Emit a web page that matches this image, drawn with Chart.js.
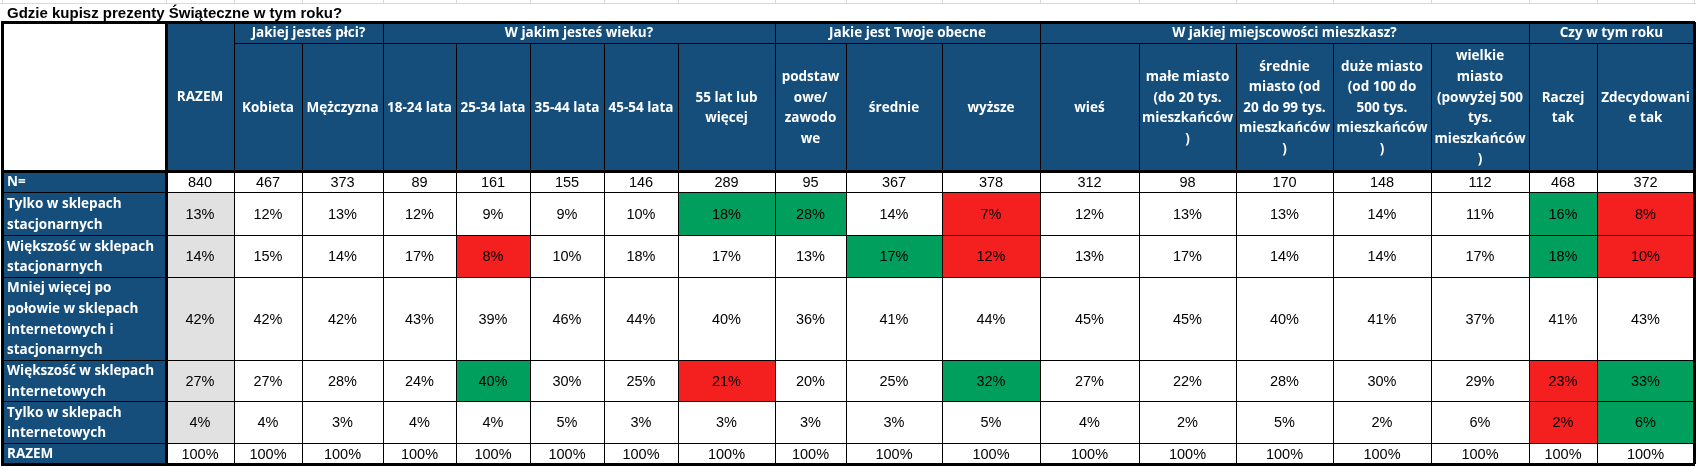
<!DOCTYPE html>
<html>
<head>
<meta charset="utf-8">
<script src="https://cdn.jsdelivr.net/npm/chart.js@4.4.1/dist/chart.umd.min.js"></script>
<style>
  html, body { margin: 0; padding: 0; background: #fff; }
  #wrap { position: relative; width: 1696px; height: 467px; }
</style>
</head>
<body>
<div id="wrap"><canvas id="table-chart"></canvas></div>
<script>
var title = 'Gdzie kupisz prezenty Świąteczne w tym roku?';

var groups = ['Jakiej jesteś płci?', 'W jakim jesteś wieku?', 'Jakie jest Twoje obecne',
  'W jakiej miejscowości mieszkasz?', 'Czy w tym roku'];
var groupSpans = [2, 5, 3, 5, 2];

var columns = ['RAZEM', 'Kobieta', 'Mężczyzna', '18-24 lata', '25-34 lata', '35-44 lata',
  '45-54 lata', '55 lat lub\nwięcej', 'podstaw\nowe/\nzawodo\nwe', 'średnie', 'wyższe', 'wieś',
  'małe miasto\n(do 20 tys.\nmieszkańców\n)', 'średnie\nmiasto (od\n20 do 99 tys.\nmieszkańców\n)',
  'duże miasto\n(od 100 do\n500 tys.\nmieszkańców\n)', 'wielkie\nmiasto\n(powyżej 500\ntys.\nmieszkańców\n)',
  'Raczej\ntak', 'Zdecydowani\ne tak'];

var rowLabels = ['N=', 'Tylko w sklepach\nstacjonarnych', 'Większość w sklepach\nstacjonarnych',
  'Mniej więcej po\npołowie w sklepach\ninternetowych i\nstacjonarnych',
  'Większość w sklepach\ninternetowych', 'Tylko w sklepach\ninternetowych', 'RAZEM'];

var sampleSizes = [840, 467, 373, 89, 161, 155, 146, 289, 95, 367, 378, 312, 98, 170, 148, 112, 468, 372];
var onlyStores = [13, 12, 13, 12, 9, 9, 10, 18, 28, 14, 7, 12, 13, 13, 14, 11, 16, 8];
var mostlyStores = [14, 15, 14, 17, 8, 10, 18, 17, 13, 17, 12, 13, 17, 14, 14, 17, 18, 10];
var halfHalf = [42, 42, 42, 43, 39, 46, 44, 40, 36, 41, 44, 45, 45, 40, 41, 37, 41, 43];
var mostlyOnline = [27, 27, 28, 24, 40, 30, 25, 21, 20, 25, 32, 27, 22, 28, 30, 29, 23, 33];
var onlyOnline = [4, 4, 3, 4, 4, 5, 3, 3, 3, 3, 5, 4, 2, 5, 2, 6, 2, 6];
var totals = [100, 100, 100, 100, 100, 100, 100, 100, 100, 100, 100, 100, 100, 100, 100, 100, 100, 100];

// column indexes marked as significantly higher / lower, per answer row
var higherCells = [[7, 8, 16], [9, 16], [], [4, 10, 17], [17]];
var lowerCells = [[10, 17], [4, 10, 17], [], [7, 16], [16]];

// table layout, in page units
var colEdges = [2, 166, 234, 302, 383, 456, 530, 604, 678, 775, 846, 942, 1040, 1139, 1236, 1333, 1431, 1529, 1597, 1694];
var rowEdges = [22, 43, 171, 192, 235, 277, 360, 401, 443, 464];

var NAVY = '#154e7a';
var GREEN = '#009f5d';
var RED = '#f41f1f';
var GREY = '#e1e1e1';
var headFont = 'bold 13.5px "Open Sans", Lato, sans-serif';
var cellFont = '14.5px "Liberation Sans", Arial, sans-serif';
var lineH = 20.6;

var bodyRows = [sampleSizes, onlyStores, mostlyStores, halfHalf, mostlyOnline, onlyOnline, totals];

function mid(a, b) { return (a + b) / 2; }

var datasets = bodyRows.map(function(values, r) {
  return {
    label: rowLabels[r],
    data: values.map(function(v, c) {
      return { x: mid(colEdges[c + 1], colEdges[c + 2]), y: mid(rowEdges[r + 2], rowEdges[r + 3]), v: v };
    }),
    pointRadius: 0,
    pointHoverRadius: 0,
    showLine: false
  };
});

function multiline(ctx, text, x, y, align) {
  var lines = text.split('\n');
  var top = y - (lines.length - 1) * lineH / 2;
  ctx.textAlign = align;
  ctx.textBaseline = 'middle';
  lines.forEach(function(l, i) { ctx.fillText(l, x, top + i * lineH + 1); });
}

var tablePlugin = {
  id: 'tablePlugin',
  beforeDatasetsDraw: function(chart) {
    var ctx = chart.ctx, sx = chart.scales.x, sy = chart.scales.y;
    var X = function(v) { return sx.getPixelForValue(v); };
    var Y = function(v) { return sy.getPixelForValue(v); };
    function rect(x0, y0, x1, y1, color) {
      ctx.fillStyle = color;
      ctx.fillRect(X(x0), Y(y0), X(x1) - X(x0), Y(y1) - Y(y0));
    }
    function line(x0, y0, x1, y1, w, color) {
      ctx.strokeStyle = color || '#000';
      ctx.lineWidth = w;
      var o = w % 2 ? 0.5 : 0;
      ctx.beginPath();
      if (y0 === y1) {
        ctx.moveTo(X(x0), Math.round(Y(y0)) + o);
        ctx.lineTo(X(x1), Math.round(Y(y1)) + o);
      } else {
        ctx.moveTo(Math.round(X(x0)) + o, Y(y0));
        ctx.lineTo(Math.round(X(x1)) + o, Y(y1));
      }
      ctx.stroke();
    }
    var L = colEdges[0], R = colEdges[colEdges.length - 1];
    var T = rowEdges[0], B = rowEdges[rowEdges.length - 1];

    ctx.save();
    rect(sx.min, sy.min, sx.max, sy.max, '#fff');

    // sheet gridlines above the table
    line(sx.min, 3, sx.max, 3, 1, '#d9d9d9');
    colEdges.forEach(function(e) { line(e, 0, e, 3, 1, '#d9d9d9'); });

    // title
    ctx.fillStyle = '#000';
    ctx.font = 'bold 15px "Liberation Sans", Arial, sans-serif';
    ctx.textAlign = 'left';
    ctx.textBaseline = 'alphabetic';
    ctx.fillText(title, X(7), Y(18));

    // header area
    rect(L, T, colEdges[1], rowEdges[2], '#fff');
    rect(colEdges[1], T, R, rowEdges[2], NAVY);
    rect(L, rowEdges[2], colEdges[1], B, NAVY);

    // body cells
    bodyRows.forEach(function(values, r) {
      values.forEach(function(v, c) {
        var color = null;
        var a = r - 1;
        if (a >= 0 && a < higherCells.length) {
          if (higherCells[a].indexOf(c) >= 0) color = GREEN;
          else if (lowerCells[a].indexOf(c) >= 0) color = RED;
          else if (c === 0) color = GREY;
        }
        if (color) rect(colEdges[c + 1], rowEdges[r + 2], colEdges[c + 2], rowEdges[r + 3], color);
      });
    });

    // thin lines
    line(colEdges[2], rowEdges[1], R, rowEdges[1], 1);
    line(colEdges[2], T, colEdges[2], rowEdges[2], 1);
    var gi = 2;
    groupSpans.forEach(function(s) {
      gi += s;
      line(colEdges[gi], T, colEdges[gi], rowEdges[2], 1);
    });
    for (var c = 3; c < colEdges.length - 1; c++) {
      line(colEdges[c], rowEdges[1], colEdges[c], rowEdges[2], 1);
    }
    for (var r = 3; r < rowEdges.length - 1; r++) {
      line(L, rowEdges[r], R, rowEdges[r], 1);
    }
    for (var k = 2; k < colEdges.length - 1; k++) {
      line(colEdges[k], rowEdges[2], colEdges[k], B, 1);
    }

    // thick lines
    line(L - 1, T, R + 1, T, 3);
    line(L - 1, B, R + 1, B, 3);
    line(L, T, L, B, 3);
    line(R, T, R, B, 3);
    line(colEdges[1], T, colEdges[1], B, 3);
    line(L, rowEdges[2], R, rowEdges[2], 3);

    // header texts
    ctx.fillStyle = '#fff';
    ctx.font = headFont;
    multiline(ctx, columns[0], X(mid(colEdges[1], colEdges[2])), Y(mid(T, rowEdges[2])), 'center');
    var g0 = 2;
    groups.forEach(function(g, i) {
      var g1 = g0 + groupSpans[i];
      multiline(ctx, g, X(mid(colEdges[g0], colEdges[g1])), Y(mid(T, rowEdges[1])), 'center');
      g0 = g1;
    });
    for (var h = 1; h < columns.length; h++) {
      multiline(ctx, columns[h], X(mid(colEdges[h + 1], colEdges[h + 2])), Y(mid(rowEdges[1], rowEdges[2])), 'center');
    }
    rowLabels.forEach(function(lbl, r) {
      multiline(ctx, lbl, X(L + 5), Y(mid(rowEdges[r + 2], rowEdges[r + 3])), 'left');
    });
    ctx.restore();
  },
  afterDatasetsDraw: function(chart) {
    var ctx = chart.ctx;
    ctx.save();
    ctx.fillStyle = '#000';
    ctx.font = cellFont;
    ctx.textAlign = 'center';
    ctx.textBaseline = 'middle';
    chart.data.datasets.forEach(function(ds, r) {
      var meta = chart.getDatasetMeta(r);
      meta.data.forEach(function(pt, i) {
        var v = ds.data[i].v;
        ctx.fillText(r === 0 ? String(v) : v + '%', pt.x, pt.y + 1);
      });
    });
    ctx.restore();
  }
};

var chart = new Chart(document.getElementById('table-chart'), {
  type: 'scatter',
  data: { datasets: datasets },
  options: {
    responsive: true,
    maintainAspectRatio: false,
    animation: false,
    events: [],
    layout: { padding: 0 },
    plugins: { legend: { display: false }, tooltip: { enabled: false } },
    scales: {
      x: { type: 'linear', min: 0, max: 1696, display: false },
      y: { type: 'linear', min: 0, max: 467, reverse: true, display: false }
    }
  },
  plugins: [tablePlugin]
});
</script>
</body>
</html>
